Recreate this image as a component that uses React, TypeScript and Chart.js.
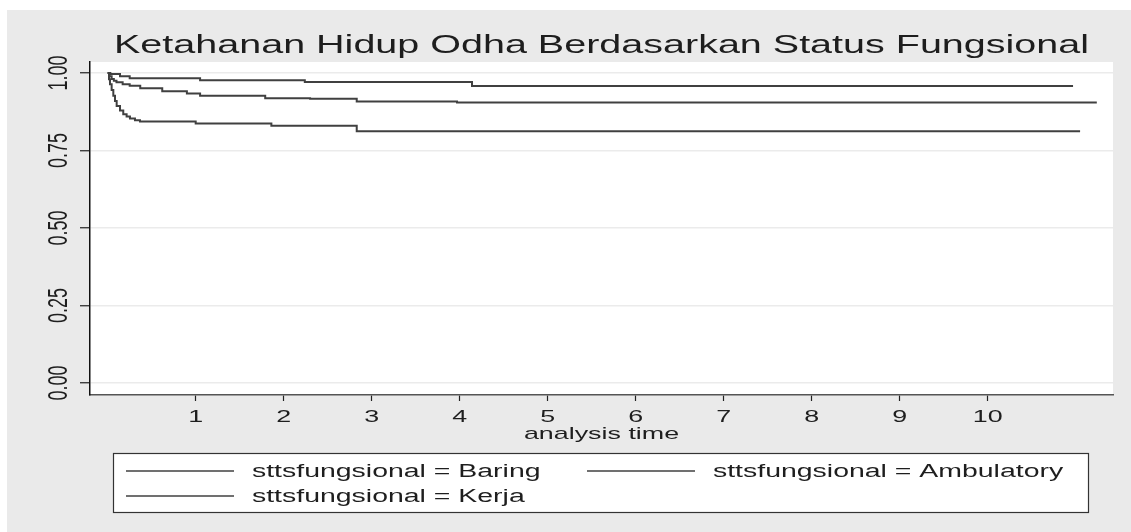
import React, { useEffect, useRef } from "react";
import { Chart, registerables } from "chart.js";

Chart.register(...registerables);

const TITLE = "Ketahanan Hidup Odha Berdasarkan Status Fungsional";
const X_TITLE = "analysis time";
const X_TICKS = [1, 2, 3, 4, 5, 6, 7, 8, 9, 10];
const Y_TICKS = [0, 0.25, 0.5, 0.75, 1];
const Y_TICK_LABELS = ["0.00", "0.25", "0.50", "0.75", "1.00"];
const SERIES_LABELS = [
  "sttsfungsional = Baring",
  "sttsfungsional = Ambulatory",
  "sttsfungsional = Kerja",
];

const BARING_T = [0, 0.015, 0.026, 0.045, 0.064, 0.083, 0.102, 0.14, 0.177, 0.215, 0.253, 0.31, 0.367, 1.0, 1.86, 2.83, 11.05];
const BARING_S = [1, 0.98, 0.964, 0.945, 0.927, 0.91, 0.894, 0.879, 0.867, 0.86, 0.853, 0.848, 0.844, 0.837, 0.83, 0.812, 0.812];

const AMB_T = [0, 0.02, 0.045, 0.07, 0.1, 0.17, 0.25, 0.37, 0.62, 0.9, 1.05, 1.79, 2.3, 2.83, 3.97, 11.24];
const AMB_S = [1, 0.99, 0.981, 0.975, 0.97, 0.964, 0.959, 0.951, 0.941, 0.934, 0.927, 0.919, 0.917, 0.908, 0.905, 0.905];

const KERJA_T = [0, 0.03, 0.14, 0.25, 1.05, 2.24, 4.14, 10.97];
const KERJA_S = [1, 0.997, 0.99, 0.983, 0.977, 0.971, 0.958, 0.958];

const X_MIN = -0.201;
const X_MAX = 11.424;
const Y_MIN = -0.0388;
const Y_MAX = 1.0356;

const W = 1131;
const H = 532;
const STRETCH = 1.58;
const FONT = "'Liberation Sans', Arial, sans-serif";
const LINE_COLOR = "#404040";
const TEXT_COLOR = "#1e1e1e";
const BG_GREY = "#eaeaea";

function toPoints(t: number[], s: number[]) {
  return t.map((v, i) => ({ x: v, y: s[i] }));
}

function stretchedText(
  ctx: CanvasRenderingContext2D,
  text: string,
  x: number,
  y: number,
  size: number,
  align: CanvasTextAlign,
  rotate = false
) {
  ctx.save();
  ctx.translate(x, y);
  ctx.scale(STRETCH, 1);
  if (rotate) ctx.rotate(-Math.PI / 2);
  ctx.font = `${size}px ${FONT}`;
  ctx.fillStyle = TEXT_COLOR;
  ctx.textAlign = align;
  ctx.textBaseline = "alphabetic";
  ctx.fillText(text, 0, 0);
  ctx.restore();
}

const decorPlugin = {
  id: "decor",
  beforeDraw(chart: any) {
    const { ctx, chartArea } = chart;
    ctx.save();
    ctx.fillStyle = "#ffffff";
    ctx.fillRect(0, 0, W, H);
    ctx.fillStyle = BG_GREY;
    ctx.fillRect(7, 10, W - 7, H - 10);
    ctx.fillStyle = "#ffffff";
    ctx.fillRect(chartArea.left, chartArea.top, chartArea.right - chartArea.left, chartArea.bottom - chartArea.top);
    ctx.restore();
  },
  afterDraw(chart: any) {
    const { ctx, chartArea } = chart;
    const xs = chart.scales.x;
    const ys = chart.scales.y;
    const cx = (chartArea.left + chartArea.right) / 2;

    // title
    stretchedText(ctx, TITLE, cx, 53, 25, "center");

    // x tick labels
    X_TICKS.forEach((v) => {
      stretchedText(ctx, String(v), xs.getPixelForValue(v), 422, 17, "center");
    });
    // x title
    stretchedText(ctx, X_TITLE, cx, 439, 17, "center");

    // y tick labels (rotated)
    Y_TICKS.forEach((v, i) => {
      stretchedText(ctx, Y_TICK_LABELS[i], 67, ys.getPixelForValue(v), 18, "center", true);
    });

    // legend
    const bx = 113, by = 453, bw = 1088 - 113, bh = 512 - 453;
    ctx.save();
    ctx.fillStyle = "#ffffff";
    ctx.fillRect(bx, by, bw, bh);
    ctx.strokeStyle = "#333333";
    ctx.lineWidth = 1.2;
    ctx.strokeRect(bx + 0.5, by + 0.5, bw, bh);
    ctx.restore();
    const items = [
      { col: 0, row: 0, ds: 0 },
      { col: 1, row: 0, ds: 1 },
      { col: 0, row: 1, ds: 2 },
    ];
    items.forEach((it) => {
      const lx = 126 + it.col * 461;
      const ly = 471 + it.row * 25;
      const ds = chart.data.datasets[it.ds];
      ctx.save();
      ctx.strokeStyle = ds.borderColor;
      ctx.lineWidth = 1.6;
      ctx.beginPath();
      ctx.moveTo(lx, ly);
      ctx.lineTo(lx + 108, ly);
      ctx.stroke();
      ctx.restore();
      stretchedText(ctx, ds.label, lx + 126, ly + 6, 18, "left");
    });
  },
};

export default function App() {
  const ref = useRef<HTMLCanvasElement | null>(null);

  useEffect(() => {
    if (!ref.current) return;
    const chart = new Chart(ref.current, {
      type: "line",
      data: {
        datasets: [
          { label: SERIES_LABELS[0], data: toPoints(BARING_T, BARING_S) },
          { label: SERIES_LABELS[1], data: toPoints(AMB_T, AMB_S) },
          { label: SERIES_LABELS[2], data: toPoints(KERJA_T, KERJA_S) },
        ].map((d) => ({
          ...d,
          borderColor: LINE_COLOR,
          borderWidth: 2,
          pointRadius: 0,
          stepped: "before" as const,
          fill: false,
        })),
      },
      options: {
        animation: false,
        responsive: false,
        devicePixelRatio: 1,
        layout: { padding: { left: 0, top: 62, right: W - 1113, bottom: 0 } },
        plugins: {
          legend: { display: false },
          title: { display: false },
          tooltip: { enabled: false },
        },
        scales: {
          x: {
            type: "linear",
            min: X_MIN,
            max: X_MAX,
            afterBuildTicks: (s: any) => {
              s.ticks = X_TICKS.map((v) => ({ value: v }));
            },
            afterFit: (s: any) => {
              s.height = H - 395;
            },
            ticks: { display: false },
            grid: {
              drawOnChartArea: false,
              drawTicks: true,
              tickLength: 6,
              tickColor: "#222",
              tickWidth: 1.2,
            },
            border: { display: true, color: "#555", width: 1.5 },
          },
          y: {
            type: "linear",
            min: Y_MIN,
            max: Y_MAX,
            afterBuildTicks: (s: any) => {
              s.ticks = Y_TICKS.map((v) => ({ value: v }));
            },
            afterFit: (s: any) => {
              s.width = 90;
            },
            ticks: { display: false },
            grid: {
              color: "#ebebeb",
              lineWidth: 1.5,
              drawTicks: true,
              tickLength: 10,
              tickColor: "#222",
              tickWidth: 1.2,
            },
            border: { display: true, color: "#111", width: 1.5 },
          },
        },
      },
      plugins: [decorPlugin],
    });
    return () => chart.destroy();
  }, []);

  return (
    <div style={{ position: "fixed", left: 0, top: 0, width: W, height: H }}>
      <canvas ref={ref} width={W} height={H} style={{ display: "block", width: W, height: H }} />
    </div>
  );
}
